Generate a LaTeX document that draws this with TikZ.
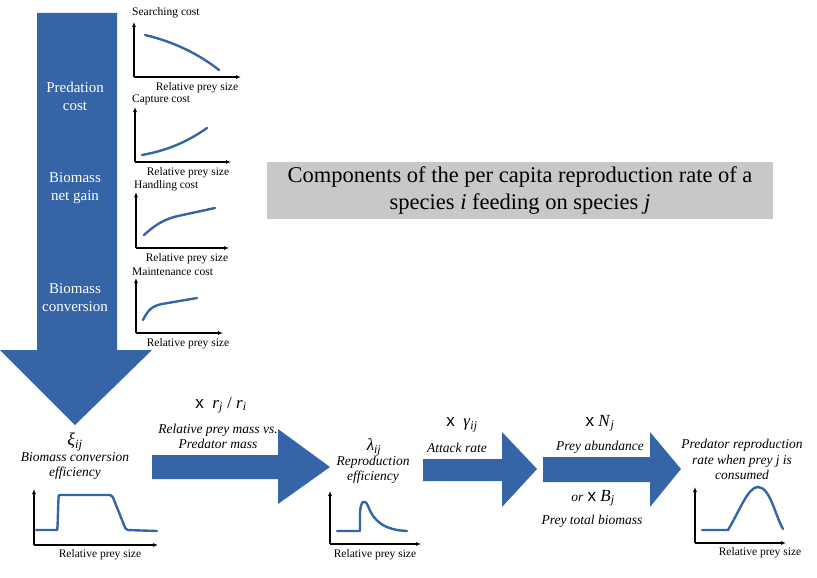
\documentclass[tikz,border=0pt]{standalone}
\usepackage{fontspec}
\IfFontExistsTF{LiberationSerif-Regular.ttf}{%
\setmainfont{LiberationSerif}[Extension=.ttf,UprightFont=*-Regular,ItalicFont=*-Italic,BoldFont=*-Bold,BoldItalicFont=*-BoldItalic]}{%
\setmainfont{Liberation Serif}}
\setsansfont{Liberation Sans}
\usetikzlibrary{arrows.meta}
\definecolor{arrblue}{RGB}{53,101,166}
\definecolor{boxgray}{RGB}{200,200,200}
\newcommand{\tms}{{\sffamily x}}
\begin{document}
\begin{tikzpicture}[x=1pt,y=-1pt,
  axis/.style={black,line width=1.1pt,-{Latex[length=5pt,width=4pt]}},
  curve/.style={arrblue,line width=2.4pt,line cap=round,line join=round},
  inarrow/.style={white,font=\fontsize{15}{18}\selectfont,align=center},
  small/.style={font=\fontsize{11.5}{12}\selectfont,inner sep=0pt},
  itlab/.style={font=\fontsize{13.5}{15}\selectfont\itshape,align=center,inner sep=0pt},
  mult/.style={font=\fontsize{17}{18}\selectfont,inner sep=0pt}]
\useasboundingbox (0,0) rectangle (817,578);
% big down arrow
\fill[arrblue] (37,13) -- (117,13) -- (117,350) -- (152,350) -- (75,425) -- (0,350) -- (37,350) -- cycle;
\node[inarrow] (pc) at (75,96) {Predation\\cost};
\node[inarrow] (bg) at (75,188) {Biomass\\net gain};
\node[inarrow] (bc) at (75,298) {Biomass\\conversion};
% graph 1
\node[small,anchor=west] (g1t) at (132,13) {Searching cost};
\draw[axis] (134,77) -- (134,22);
\draw[axis] (134,77) -- (241,77);
\draw[curve] (145,35) .. controls (175,42) and (200,55) .. (219,70);
\node[small] (g1x) at (197,88) {Relative prey size};
% graph 2
\node[small,anchor=west] (g2t) at (132,100) {Capture cost};
\draw[axis] (135,162) -- (135,107);
\draw[axis] (135,162) -- (231,162);
\draw[curve] (142,155) .. controls (170,150) and (190,140) .. (207,128);
\node[small] (g2x) at (188,173) {Relative prey size};
% graph 3
\node[small,anchor=west] (g3t) at (134,186) {Handling cost};
\draw[axis] (136,248) -- (136,192);
\draw[axis] (136,248) -- (229,248);
\draw[curve] (144,235) .. controls (156,224) and (165,219) .. (178,216) -- (215,208);
\node[small] (g3x) at (187,259) {Relative prey size};
% graph 4
\node[small,anchor=west] (g4t) at (132,272) {Maintenance cost};
\draw[axis] (136,333) -- (136,278);
\draw[axis] (136,333) -- (223,333);
\draw[curve] (143,320) .. controls (148,310) and (152,306) .. (162,304) -- (197,298);
\node[small] (g4x) at (188,344) {Relative prey size};
% title box
\node[fill=boxgray,minimum width=506pt,minimum height=57pt,align=center,
  font=\fontsize{22.5}{27}\selectfont] (title) at (520,190.5)
  {Components of the per capita reproduction rate of a\\species \textit{i} feeding on species \textit{j}};
% xi
\node[font=\fontsize{18}{18}\selectfont\itshape,inner sep=0pt] (xi) at (75,442) {ξ\textsubscript{ij}};
\node[itlab] (bce) at (75,466) {Biomass conversion\\efficiency};
\draw[axis] (34,545) -- (34,489);
\draw[axis] (34,545) -- (158,545);
\draw[curve,rounded corners=2pt] (36,530) -- (55,530) .. controls (58,530) and (58,495) .. (61,495) -- (112,495) -- (126,530) -- (157,531);
\node[small] (x1) at (100,555) {Relative prey size};
% arrow 1
\fill[arrblue] (152,455) -- (278,455) -- (278,429) -- (330,467) -- (278,504) -- (278,479) -- (152,479) -- cycle;
\node[mult] (m1) at (221,405) {\tms\ \ \textit{r}\textsubscript{\textit{j}} / \textit{r}\textsubscript{\textit{i}}};
\node[itlab] (rpm) at (218,436) {Relative prey mass vs.\\Predator mass};
% lambda
\node[font=\fontsize{17}{18}\selectfont\itshape,inner sep=0pt] (lam) at (374,447) {λ\textsubscript{ij}};
\node[itlab] (re) at (373,470) {Reproduction\\efficiency};
\draw[axis] (330,544) -- (330,491);
\draw[axis] (330,544) -- (421,544);
\draw[curve] (337,531) -- (360,531) -- (360,512) .. controls (361,500) and (365,499) .. (368,506) .. controls (374,522) and (385,530) .. (407,531);
\node[small] (x2) at (375,555) {Relative prey size};
% arrow 2
\fill[arrblue] (423,459) -- (502,459) -- (502,432) -- (537,469) -- (502,507) -- (502,481) -- (423,481) -- cycle;
\node[mult] (m2) at (462,425) {\tms\ \ \textit{γ}\textsubscript{\textit{ij}}};
\node[itlab] (ar) at (457,448) {Attack rate};
% arrow 3
\fill[arrblue] (543,457) -- (650,457) -- (650,432) -- (681,469) -- (650,507) -- (650,482) -- (543,482) -- cycle;
\node[mult] (m3) at (600,423) {\tms\ \textit{N}\textsubscript{\textit{j}}};
\node[itlab] (pa) at (600,447) {Prey abundance};
\node[mult] (m4) at (593,498) {{\itshape\fontsize{13.5}{15}\selectfont or} \tms\ \textit{B}\textsubscript{\textit{j}}};
\node[itlab] (ptb) at (592,521) {Prey total biomass};
% result
\node[itlab,font=\fontsize{13.5}{15.5}\selectfont\itshape] (prr) at (742,459.5) {Predator reproduction\\rate when prey j is\\consumed};
\draw[axis] (695,543) -- (695,487);
\draw[axis] (695,543) -- (786,543);
\draw[curve] (702,530) -- (728,530) .. controls (740,510) and (748,487) .. (758,487) .. controls (770,487) and (775,515) .. (783,529);
\node[small] (x3) at (760,553) {Relative prey size};
\end{tikzpicture}
\end{document}
